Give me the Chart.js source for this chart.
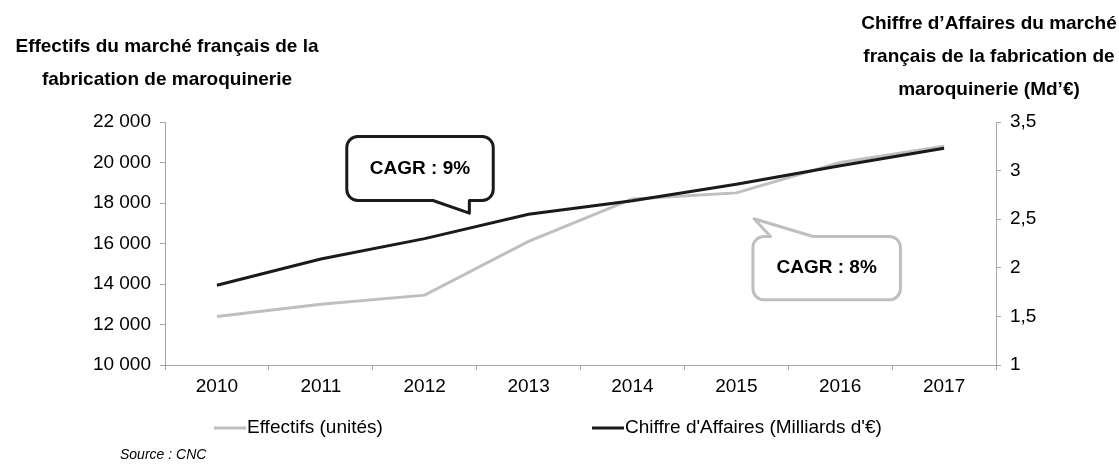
<!DOCTYPE html>
<html><head><meta charset="utf-8">
<script src="https://cdn.jsdelivr.net/npm/chart.js@4"></script>
<style>html,body{margin:0;padding:0;background:#fff}#wrap{width:1119px;height:466px}</style>
</head><body><div id="wrap"><canvas id="c" width="1119" height="466"></canvas></div>
<script>
const categories = ['2010','2011','2012','2013','2014','2015','2016','2017'];
const effectifs = [12400, 13000, 13450, 16100, 18200, 18500, 20000, 20800];
const chiffreAffaires = [1.82, 2.09, 2.30, 2.55, 2.69, 2.86, 3.05, 3.23];
const leftAxisRange = [10000, 22000, 2000];
const rightAxisRange = [1, 3.5, 0.5];
const seriesLabels = ['Effectifs (unités)', "Chiffre d'Affaires (Milliards d'€)"];
const leftTitle = ['Effectifs du marché français de la', 'fabrication de maroquinerie'];
const rightTitle = ['Chiffre d’Affaires du marché', 'français de la fabrication de', 'maroquinerie (Md’€)'];
const calloutTexts = ['CAGR : 9%', 'CAGR : 8%'];
const sourceText = 'Source : CNC';

const FONT = "'Liberation Sans', Arial, sans-serif";
const AXIS = '#a6a6a6';

function fmtLeft(v){ return String(v).replace(/\B(?=(\d{3})+(?!\d))/g, ' '); }
function fmtRight(v){ return String(v).replace('.', ','); }

function bubblePath(ctx, L, T, R, B, r, tail, side){
  ctx.beginPath();
  ctx.moveTo(L + r, T);
  if (side === 'top') { ctx.lineTo(tail[0], T); ctx.lineTo(tail[1], tail[2]); ctx.lineTo(tail[3], T); }
  ctx.lineTo(R - r, T);
  ctx.arcTo(R, T, R, T + r, r);
  ctx.lineTo(R, B - r);
  ctx.arcTo(R, B, R - r, B, r);
  if (side === 'bottom') { ctx.lineTo(tail[3], B); ctx.lineTo(tail[1], tail[2]); ctx.lineTo(tail[0], B); }
  ctx.lineTo(L + r, B);
  ctx.arcTo(L, B, L, B - r, r);
  ctx.lineTo(L, T + r);
  ctx.arcTo(L, T, L + r, T, r);
  ctx.closePath();
}

const decor = {
  id: 'decor',
  afterDatasetsDraw(chart){
    const ctx = chart.ctx, x = chart.scales.x, y = chart.scales.y;
    const px = i => x.getPixelForValue(0) + i * (x.getPixelForValue(1) - x.getPixelForValue(0));
    ctx.save();
    ctx.lineJoin = 'round';
    ctx.lineWidth = 3;
    let L = px(1.25), R = px(2.66), T = y.getPixelForValue(21284), B = y.getPixelForValue(18123);
    bubblePath(ctx, L, T, R, B, 11, [px(2.08), px(2.43), y.getPixelForValue(17496), px(2.43)], 'bottom');
    ctx.fillStyle = '#fff'; ctx.fill();
    ctx.strokeStyle = '#1a1a1a'; ctx.stroke();
    ctx.fillStyle = '#000'; ctx.font = 'bold 19px ' + FONT;
    ctx.textAlign = 'center'; ctx.textBaseline = 'middle';
    ctx.fillText(calloutTexts[0], (L + R) / 2, (T + B) / 2);
    L = px(5.16); R = px(6.58); T = y.getPixelForValue(16346); B = y.getPixelForValue(13220);
    bubblePath(ctx, L, T, R, B, 11, [px(5.33), px(5.17), y.getPixelForValue(17220), px(5.74)], 'top');
    ctx.fillStyle = '#fff'; ctx.fill();
    ctx.strokeStyle = '#bfbfbf'; ctx.stroke();
    ctx.fillStyle = '#000';
    ctx.fillText(calloutTexts[1], (L + R) / 2, (T + B) / 2);
    ctx.restore();
  },
  afterDraw(chart){
    const ctx = chart.ctx, ca = chart.chartArea;
    ctx.save();
    ctx.fillStyle = '#000';
    ctx.textAlign = 'center'; ctx.textBaseline = 'middle';
    ctx.font = 'bold 19px ' + FONT;
    leftTitle.forEach((t, i) => ctx.fillText(t, ca.left + 2, 47 + i * 33));
    rightTitle.forEach((t, i) => ctx.fillText(t, 989, 24 + i * 33));
    const ds = chart.data.datasets;
    const ly = 428;
    const lx = [214, 592];
    ds.forEach((d, i) => {
      ctx.strokeStyle = d.borderColor; ctx.lineWidth = 3;
      ctx.beginPath(); ctx.moveTo(lx[i], ly); ctx.lineTo(lx[i] + 32, ly); ctx.stroke();
      ctx.fillStyle = '#000'; ctx.textAlign = 'left';
      ctx.font = "19px " + FONT;
      ctx.fillText(d.label, lx[i] + 33, ly);
    });
    ctx.font = "italic 14px " + FONT;
    ctx.textAlign = 'left';
    ctx.fillText(sourceText, 120, 455);
    ctx.restore();
  }
};

new Chart(document.getElementById('c'), {
  type: 'line',
  data: {
    labels: categories,
    datasets: [
      { label: seriesLabels[0], data: effectifs, yAxisID: 'y', borderColor: '#bfbfbf', borderWidth: 3, pointRadius: 0, tension: 0, order: 2 },
      { label: seriesLabels[1], data: chiffreAffaires, yAxisID: 'y1', borderColor: '#1a1a1a', borderWidth: 3, pointRadius: 0, tension: 0, order: 1 }
    ]
  },
  options: {
    responsive: false, animation: false, devicePixelRatio: 1,
    layout: { padding: { top: 122, left: 0, right: 0, bottom: 0 } },
    plugins: { legend: { display: false }, tooltip: { enabled: false }, title: { display: false } },
    scales: {
      x: {
        offset: true,
        grid: { display: true, drawOnChartArea: false, tickLength: 5, color: AXIS, offset: true },
        border: { color: AXIS, width: 1 },
        ticks: { color: '#000', font: { family: FONT, size: 19 }, padding: 5, maxRotation: 0, autoSkip: false },
        afterFit(s){ s.height = 101; }
      },
      y: {
        position: 'left', min: leftAxisRange[0], max: leftAxisRange[1],
        grid: { drawOnChartArea: false, tickLength: 5, color: AXIS },
        border: { color: AXIS, width: 1 },
        ticks: { stepSize: leftAxisRange[2], color: '#000', font: { family: FONT, size: 19 }, padding: 9, callback: v => fmtLeft(v) },
        afterFit(s){ s.width = 165; }
      },
      y1: {
        position: 'right', min: rightAxisRange[0], max: rightAxisRange[1],
        grid: { drawOnChartArea: false, tickLength: 5, color: AXIS },
        border: { color: AXIS, width: 1 },
        ticks: { stepSize: rightAxisRange[2], color: '#000', font: { family: FONT, size: 19 }, padding: 9, callback: v => fmtRight(v) },
        afterFit(s){ s.width = 123; }
      }
    }
  },
  plugins: [decor]
});
</script></body></html>
